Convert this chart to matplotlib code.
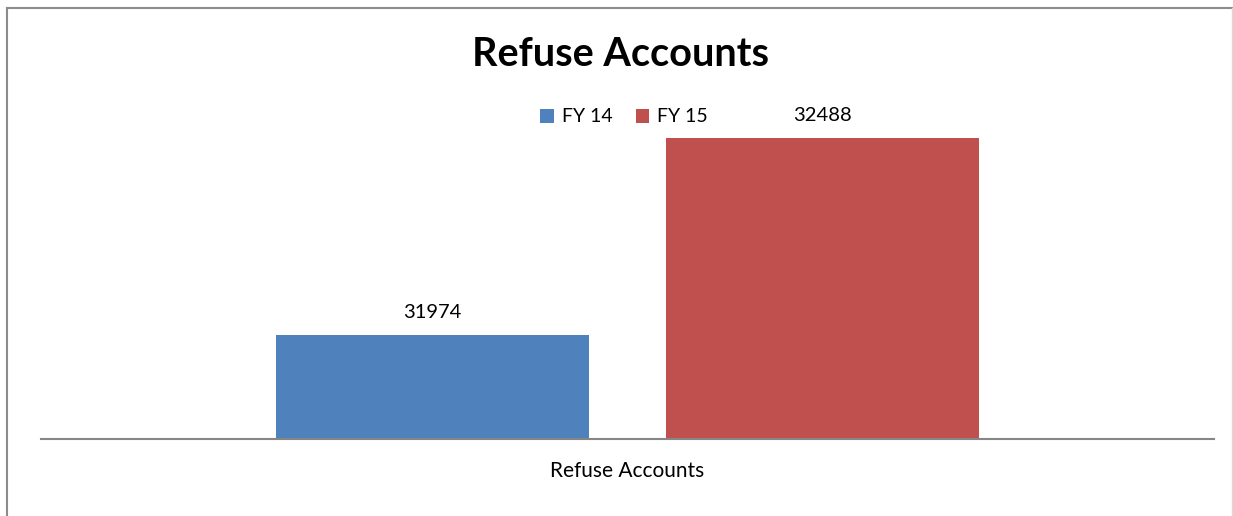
import matplotlib

matplotlib.use("Agg")
import matplotlib.pyplot as plt
from matplotlib.lines import Line2D

plt.rcParams["font.family"] = ["Lato", "DejaVu Sans"]

categories = ["Refuse Accounts"]
series = ["FY 14", "FY 15"]
values = [31974, 32488]
colors = ["#4F81BD", "#C0504D"]

W, H = 1233, 516
fig = plt.figure(figsize=(W / 100, H / 100), dpi=100)
ax = fig.add_axes([41 / W, (H - 438.5) / H, (1214 - 41) / W, (438.5 - 93) / H])

offsets = [-0.1662, 0.1662]
width = 0.2668
for name, val, col, off in zip(series, values, colors, offsets):
    ax.bar(0 + off, val, width=width, color=col, label=name, zorder=2)
    ax.annotate(f"{val}", (0 + off, val), xytext=(0, 10), textcoords="offset points",
                ha="center", va="bottom", fontsize=14.5, color="#000000")

ax.set_xlim(-0.5, 0.5)
ax.set_ylim(31705, 32606)
ax.set_yticks([])
ax.set_xticks([0])
ax.set_xticklabels(categories, fontsize=15)
ax.tick_params(axis="x", length=0, pad=16)
for s in ["top", "right", "left"]:
    ax.spines[s].set_visible(False)
ax.spines["bottom"].set_color("#868686")
ax.spines["bottom"].set_linewidth(1.5)

fig.text(620 / W, 1 - 55 / H, "Refuse Accounts", ha="center", va="center",
         fontsize=28.5, fontweight="bold")
fig.legend(loc="center", bbox_to_anchor=(624 / W, 1 - 117 / H), ncol=2, frameon=False,
           fontsize=14, handlelength=0.7, handleheight=0.7, handletextpad=0.4,
           columnspacing=1.2)

# outer chart frame
fig.add_artist(Line2D([6.5 / W, 6.5 / W], [0, 1 - 7.5 / H], transform=fig.transFigure,
                      color="#8c8c8c", lw=1.5))
fig.add_artist(Line2D([6.5 / W, 1232 / W], [1 - 7.5 / H, 1 - 7.5 / H],
                      transform=fig.transFigure, color="#8c8c8c", lw=1.5))
fig.add_artist(Line2D([1232 / W, 1232 / W], [0, 1 - 7.5 / H], transform=fig.transFigure,
                      color="#d9d9d9", lw=1.0))

fig.savefig("out.png", dpi=100)
